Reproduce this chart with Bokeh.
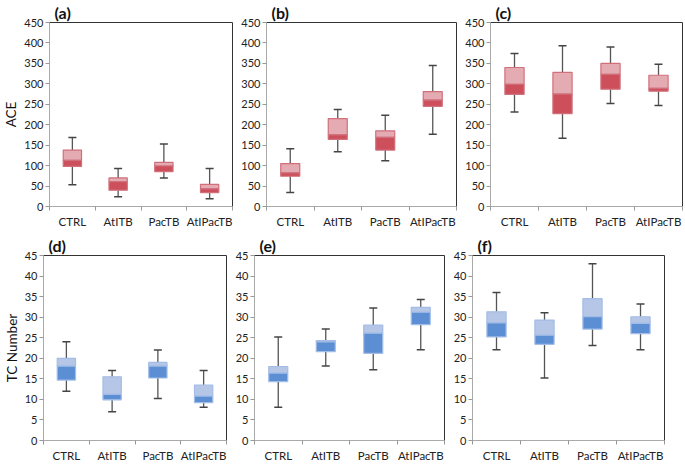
from bokeh.plotting import figure
from bokeh.layouts import column, row
from bokeh.models import FixedTicker, Range1d, Title, ColumnDataSource
from bokeh.embed import file_html
from bokeh.resources import INLINE

categories = ["CTRL", "AtITB", "PacTB", "AtIPacTB"]

# ACE panels (a), (b), (c): whisker low, q1, median, q3, whisker high
ace_a_low = [53, 24, 70, 19]
ace_a_q1 = [98, 40, 85, 34]
ace_a_med = [113, 61, 99, 43]
ace_a_q3 = [138, 70, 108, 54]
ace_a_high = [169, 93, 153, 93]

ace_b_low = [34, 134, 112, 177]
ace_b_q1 = [74, 164, 138, 245]
ace_b_med = [82, 175, 169, 260]
ace_b_q3 = [105, 215, 185, 281]
ace_b_high = [141, 237, 223, 345]

ace_c_low = [231, 167, 252, 247]
ace_c_q1 = [274, 227, 287, 282]
ace_c_med = [299, 275, 323, 289]
ace_c_q3 = [340, 328, 350, 321]
ace_c_high = [374, 393, 390, 348]

# TC Number panels (d), (e), (f)
tc_d_low = [12, 7, 10.2, 8.1]
tc_d_q1 = [14.7, 9.9, 15.2, 9.2]
tc_d_med = [18.1, 11.2, 18.1, 10.8]
tc_d_q3 = [20, 15.5, 19, 13.5]
tc_d_high = [24, 17, 22, 17]

tc_e_low = [8.1, 18.1, 17.2, 22.1]
tc_e_q1 = [14.3, 21.6, 21.2, 28.2]
tc_e_med = [16.4, 24, 26.1, 31.2]
tc_e_q3 = [18, 24.3, 28.1, 32.4]
tc_e_high = [25.2, 27.1, 32.2, 34.3]

tc_f_low = [22.1, 15.2, 23.1, 22.1]
tc_f_q1 = [25.2, 23.4, 27.1, 26]
tc_f_med = [28.6, 25.6, 30.1, 28.5]
tc_f_q3 = [31.3, 29.3, 34.5, 30.1]
tc_f_high = [36, 31.1, 43, 33.2]

ace_ticks = list(range(0, 451, 50))
tc_ticks = list(range(0, 46, 5))

RED = dict(dark="#cd4f5b", light="#e4abb2", line="#d0707b", med="#b8404c")
BLUE = dict(dark="#5b8ed3", light="#b6c6e7", line="#a3bde6", med="#4a7cc0")

FONT = "Lato"


def panel(label, low, q1, med, q3, high, ticks, colors, ylabel, fw, fh,
          bl, br, bt, bb):
    xs = [i + 1 for i in range(len(categories))]
    src = ColumnDataSource(dict(x=xs, low=low, q1=q1, med=med, q3=q3, high=high))
    p = figure(frame_width=fw, frame_height=fh, output_backend="svg",
               toolbar_location=None,
               x_range=Range1d(0.5, len(categories) + 0.5),
               y_range=Range1d(ticks[0], ticks[-1]),
               min_border_left=bl, min_border_right=br,
               min_border_top=bt, min_border_bottom=bb)
    p.title = Title(text=label, text_font=FONT, text_font_size="16px",
                    text_font_style="bold", align="left", offset=5,
                    standoff=1, text_color="#111111")
    p.grid.visible = False
    p.outline_line_color = "#333333"
    p.outline_line_width = 1
    p.background_fill_color = "white"
    p.border_fill_color = "white"

    # whiskers
    p.segment(x0="x", y0="q3", x1="x", y1="high", source=src,
              line_color="#555555", line_width=1.3)
    p.segment(x0="x", y0="low", x1="x", y1="q1", source=src,
              line_color="#555555", line_width=1.3)
    p.scatter(x="x", y="high", source=src, marker="dash", size=8,
              line_color="#444444", line_width=1.5)
    p.scatter(x="x", y="low", source=src, marker="dash", size=8,
              line_color="#444444", line_width=1.5)
    # boxes
    p.vbar(x="x", bottom="med", top="q3", width=0.4, source=src,
           fill_color=colors["light"], line_color=colors["line"], line_width=1.2)
    p.vbar(x="x", bottom="q1", top="med", width=0.4, source=src,
           fill_color=colors["dark"], line_color=colors["line"], line_width=1.2)
    p.rect(x="x", y="med", width=0.4, height=0, source=src,
           line_color=colors["med"], line_width=1.5, fill_alpha=0)

    # x axis
    xa = p.xaxis[0]
    xa.ticker = FixedTicker(ticks=xs, minor_ticks=[i + 0.5 for i in range(len(categories) + 1)])
    xa.major_label_overrides = {x: c for x, c in zip(xs, categories)}
    xa.major_tick_out = 0
    xa.major_tick_in = 0
    xa.minor_tick_out = 4
    xa.minor_tick_in = 0
    xa.minor_tick_line_color = "#999999"
    xa.axis_line_color = "#aaaaaa"
    xa.major_label_text_font = FONT
    xa.major_label_text_font_size = "11.5px"
    xa.major_label_text_color = "#222222"
    xa.major_label_standoff = 4

    # y axis
    ya = p.yaxis[0]
    ya.ticker = FixedTicker(ticks=ticks)
    ya.major_tick_out = 4
    ya.major_tick_in = 0
    ya.minor_tick_out = 0
    ya.minor_tick_in = 0
    ya.major_tick_line_color = "#999999"
    ya.axis_line_color = "#aaaaaa"
    ya.major_label_text_font = FONT
    ya.major_label_text_font_size = "11px"
    ya.major_label_text_color = "#222222"
    ya.major_label_standoff = 2
    if ylabel:
        ya.axis_label = ylabel
        ya.axis_label_text_font = FONT
        ya.axis_label_text_font_style = "normal"
        ya.axis_label_text_font_size = "13.5px"
        ya.axis_label_text_color = "#111111"
        ya.axis_label_standoff = 2
    return p


pa = panel("(a)", ace_a_low, ace_a_q1, ace_a_med, ace_a_q3, ace_a_high,
           ace_ticks, RED, "ACE", 183, 184, 10, 6, 10, 10)
pb = panel("(b)", ace_b_low, ace_b_q1, ace_b_med, ace_b_q3, ace_b_high,
           ace_ticks, RED, None, 190, 184, 10, 6, 10, 10)
pc = panel("(c)", ace_c_low, ace_c_q1, ace_c_med, ace_c_q3, ace_c_high,
           ace_ticks, RED, None, 192, 184, 10, 2, 10, 10)
pd = panel("(d)", tc_d_low, tc_d_q1, tc_d_med, tc_d_q3, tc_d_high,
           tc_ticks, BLUE, "TC Number", 183, 185, 10, 6, 25, 10)
pe = panel("(e)", tc_e_low, tc_e_q1, tc_e_med, tc_e_q3, tc_e_high,
           tc_ticks, BLUE, None, 190, 185, 10, 6, 25, 10)
pf = panel("(f)", tc_f_low, tc_f_q1, tc_f_med, tc_f_q3, tc_f_high,
           tc_ticks, BLUE, None, 192, 185, 10, 2, 25, 10)

layout = column(row(pa, pb, pc, spacing=0), row(pd, pe, pf, spacing=0), spacing=0)
open("out.html", "w").write(file_html(layout, INLINE))
